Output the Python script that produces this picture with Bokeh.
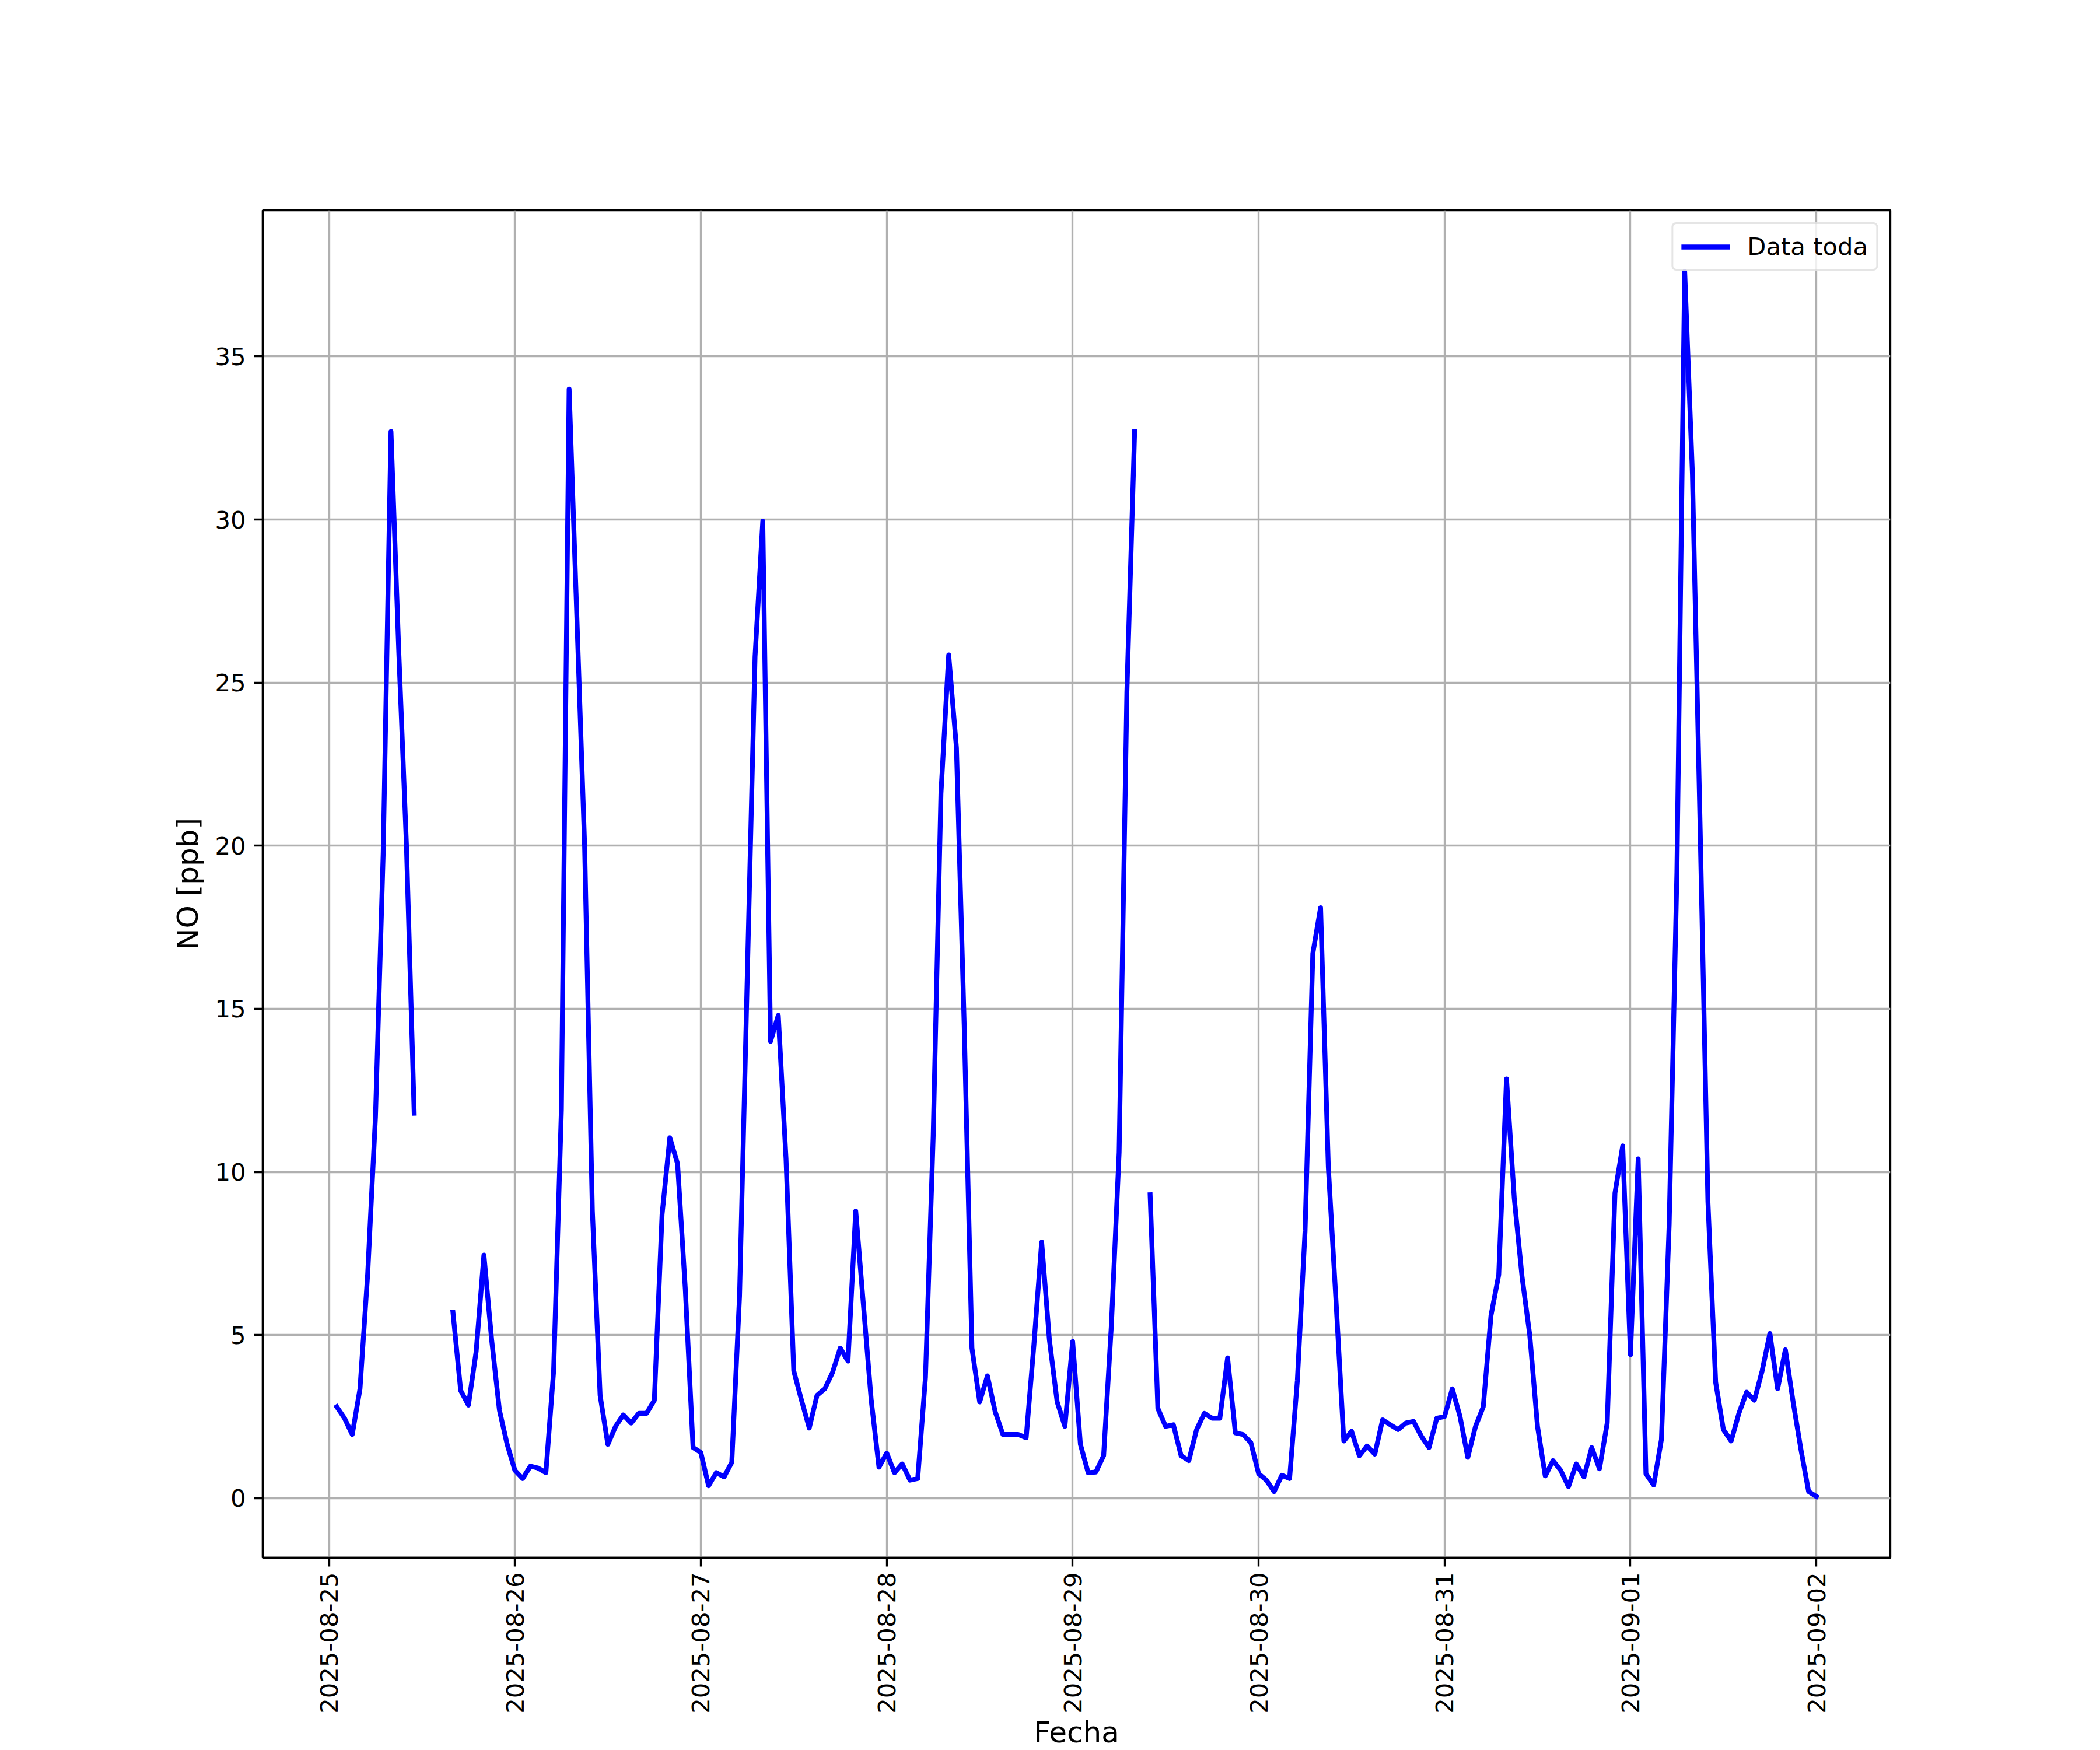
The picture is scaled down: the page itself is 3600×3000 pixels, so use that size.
import math
import pandas as pd
from bokeh.plotting import figure
from bokeh.models import Range1d, FixedTicker, DatetimeTickFormatter
from bokeh.embed import file_html
from bokeh.resources import INLINE

nan = float("nan")

# Hourly NO [ppb], starting 2025-08-25 01:00
day_0825 = [2.8, 2.45, 1.95, 3.35, 6.9, 11.7, 19.8, 32.7, 26.0, 20.0, 11.8,
            nan, nan, nan, nan, 5.7, 3.3, 2.85, 4.5, 7.45, 4.85, 2.7, 1.65]
day_0826 = [0.85, 0.6, 0.98, 0.92, 0.78, 3.9, 11.9, 34.0, 27.0, 20.0, 8.8, 3.15,
            1.65, 2.2, 2.55, 2.3, 2.6, 2.6, 3.0, 8.7, 11.05, 10.25, 6.4, 1.55]
day_0827 = [1.4, 0.38, 0.78, 0.65, 1.1, 6.2, 16.0, 25.8, 29.95, 14.0, 14.8, 10.4,
            3.9, 3.0, 2.15, 3.15, 3.35, 3.85, 4.6, 4.2, 8.8, 5.9, 3.0, 0.95]
day_0828 = [1.38, 0.78, 1.05, 0.55, 0.6, 3.7, 11.1, 21.6, 25.85, 23.0, 14.5, 4.6,
            2.95, 3.75, 2.65, 1.95, 1.95, 1.95, 1.85, 4.7, 7.85, 4.85, 2.95, 2.2]
day_0829 = [4.8, 1.65, 0.78, 0.8, 1.3, 5.3, 10.6, 24.7, 32.7, nan, 9.3, 2.75,
            2.2, 2.25, 1.3, 1.15, 2.1, 2.6, 2.45, 2.45, 4.3, 2.0, 1.95, 1.7]
day_0830 = [0.75, 0.55, 0.2, 0.7, 0.6, 3.6, 8.2, 16.7, 18.1, 10.15, 6.0, 1.75,
            2.05, 1.3, 1.6, 1.35, 2.4, 2.25, 2.1, 2.3, 2.35, 1.9, 1.55, 2.45]
day_0831 = [2.5, 3.35, 2.5, 1.25, 2.2, 2.8, 5.6, 6.85, 12.85, 9.2, 6.8, 5.0,
            2.2, 0.68, 1.15, 0.85, 0.35, 1.05, 0.65, 1.55, 0.9, 2.3, 9.35, 10.8]
day_0901 = [4.4, 10.4, 0.75, 0.4, 1.8, 8.4, 19.2, 37.6, 31.4, 20.5, 9.1, 3.55,
            2.1, 1.75, 2.6, 3.25, 3.0, 3.9, 5.05, 3.35, 4.55, 2.95, 1.5, 0.2]
day_0902 = [0.05]

start_time = "2025-08-25 01:00"
tick_dates = ["2025-08-25", "2025-08-26", "2025-08-27", "2025-08-28", "2025-08-29",
              "2025-08-30", "2025-08-31", "2025-09-01", "2025-09-02"]
y_ticks = [0, 5, 10, 15, 20, 25, 30, 35]

values = day_0825 + day_0826 + day_0827 + day_0828 + day_0829 + day_0830 + day_0831 + day_0901 + day_0902
times = pd.date_range(start_time, periods=len(values), freq="h")

t0, t1 = times[0], times[-1]
pad = (t1 - t0) * 0.05
vals = [v for v in values if not math.isnan(v)]
vmin, vmax = min(vals), max(vals)
vpad = (vmax - vmin) * 0.05

FONT = "DejaVu Sans"
FS = "41.7px"
LFS = "50px"
LW = 3.33

p = figure(x_axis_type="datetime",
           frame_width=2790, frame_height=2310,
           min_border_left=450, min_border_top=360, min_border_right=352, min_border_bottom=260,
           x_range=Range1d(t0 - pad, t1 + pad),
           y_range=Range1d(vmin - vpad, vmax + vpad),
           output_backend="svg", toolbar_location=None)

p.line(times, values, line_color="blue", line_width=8.3, line_join="round",
       line_cap="square", legend_label="Data toda")

tick_ms = [pd.Timestamp(d).value / 1e6 for d in tick_dates]
p.xaxis.ticker = FixedTicker(ticks=tick_ms)
fmt = "%Y-%m-%d"
p.xaxis.formatter = DatetimeTickFormatter(milliseconds=fmt, seconds=fmt, minsec=fmt, minutes=fmt,
                                          hourmin=fmt, hours=fmt, days=fmt, months=fmt, years=fmt)
p.xaxis.major_label_orientation = math.pi / 2
p.yaxis.ticker = FixedTicker(ticks=y_ticks)

p.xaxis.axis_label = "Fecha"
p.yaxis.axis_label = "NO [ppb]"

for ax in (p.xaxis, p.yaxis):
    ax.axis_label_text_font = FONT
    ax.axis_label_text_font_size = LFS
    ax.axis_label_text_font_style = "normal"
    ax.axis_label_text_color = "black"
    ax.major_label_text_font = FONT
    ax.major_label_text_font_size = FS
    ax.major_label_text_color = "black"
    ax.axis_line_color = "black"
    ax.axis_line_width = LW
    ax.major_tick_line_color = "black"
    ax.major_tick_line_width = LW
    ax.major_tick_out = 15
    ax.major_tick_in = 0
    ax.minor_tick_line_color = None

p.yaxis.major_label_standoff = 14
p.yaxis.axis_label_standoff = 14
p.xaxis.major_label_standoff = 10
p.xaxis.axis_label_standoff = 0

for g in (p.xgrid, p.ygrid):
    g.grid_line_color = "#b0b0b0"
    g.grid_line_width = LW

p.outline_line_color = "black"
p.outline_line_width = LW
p.background_fill_color = "white"
p.border_fill_color = "white"

lg = p.legend[0]
lg.location = "top_right"
lg.label_text_font = FONT
lg.label_text_font_size = FS
lg.label_text_color = "black"
lg.border_line_color = "#cccccc"
lg.border_line_width = LW
lg.padding = 14
lg.margin = 21
lg.glyph_width = 83
lg.glyph_height = 42
lg.label_standoff = 30
lg.background_fill_alpha = 0.8
try:
    lg.border_radius = 8
except Exception:
    pass

open("out.html", "w").write(file_html(p, INLINE))
